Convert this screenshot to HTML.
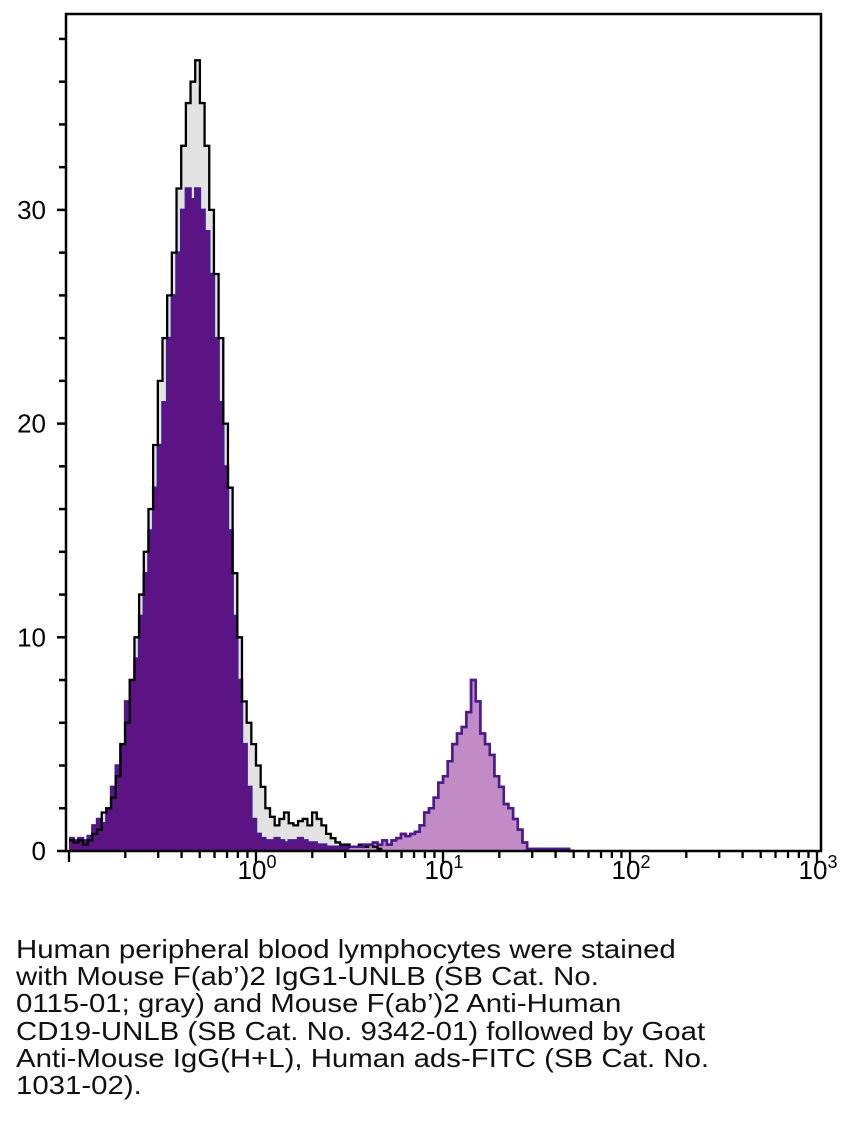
<!DOCTYPE html>
<html><head><meta charset="utf-8"><style>
html,body{margin:0;padding:0;background:#fff;width:846px;height:1140px;overflow:hidden}
#cap{position:absolute;left:16px;top:936px;font-family:"Liberation Sans",sans-serif;font-size:26px;line-height:27.2px;color:#111;white-space:pre;transform:scaleX(1.13);transform-origin:0 0}
svg{position:absolute;left:0;top:0}
</style></head><body>
<svg id="chart" width="846" height="930" xmlns="http://www.w3.org/2000/svg"></svg>
<div id="cap">Human peripheral blood lymphocytes were stained
with Mouse F(ab’)2 IgG1-UNLB (SB Cat. No.
0115-01; gray) and Mouse F(ab’)2 Anti-Human
CD19-UNLB (SB Cat. No. 9342-01) followed by Goat
Anti-Mouse IgG(H+L), Human ads-FITC (SB Cat. No.
1031-02).</div>
<script>
const binStart = -1.0;
const binWidth = 0.025;
const grayCounts = [0.5,0.4,0.5,0.3,0.5,0.8,1,1.8,2,2.5,3.5,5,6,8,10,12,14,16,19,22,24,26,28,31,33,35,36,37,35,33,30,27,24,20,17,13,10,7,6,5,4,3,2,1.6,1.2,1.5,1.8,1.3,1.2,1.4,1.5,1.2,1.8,1.5,1.2,0.8,0.6,0.4,0.3,0.3,0.2,0.2,0.3,0.2,0.3,0.2,0.1,0,0,0,0,0,0,0,0,0,0,0,0,0,0,0,0,0,0,0,0,0,0,0,0,0,0,0,0,0,0,0,0,0,0,0,0,0,0,0,0,0];
const purpleCounts = [0.6,0.5,0.6,0.5,0.7,1.2,1.5,1.3,2,3,4,5,7,8,9,11,13,15,17,19,21,24,26,28,30,31,30.5,31,30,29,27,24,21,18,15,11,8,5,3,1.5,0.8,0.6,0.5,0.5,0.6,0.5,0.4,0.5,0.5,0.6,0.5,0.4,0.4,0.3,0.3,0.2,0.2,0.2,0.2,0.3,0.2,0.2,0.2,0.3,0.3,0.4,0.3,0.5,0.3,0.5,0.6,0.8,0.7,0.8,0.9,1.2,1.8,2,2.5,3.2,3.5,4.2,5,5.5,5.8,6.5,8,7,5.5,5,4.5,3.5,3,2.2,2,1.5,1,0.4,0.1,0.1,0.1,0.1,0.1,0.1,0.1,0.1,0.1,0];
const yTicks = [0,10,20,30];
const xDecades = [0,1,2,3];
const darkLightSplit = 0.5;

const NS="http://www.w3.org/2000/svg";
const svg=document.getElementById('chart');
const L=66,R=821,T=14,B=851;
const xLog=v=>256+187*v;
const y=v=>B-v*21.37;
function mk(tag,attrs,name){const e=document.createElementNS(NS,tag);for(const k in attrs)e.setAttribute(k,attrs[k]);


svg.appendChild(e);return e;}
function stepPath(arr,from,to){let d='';for(let i=from;i<to;i++){const x0=xLog(binStart+i*binWidth),x1=xLog(binStart+(i+1)*binWidth);d+=(d?'L':'M')+x0+','+y(arr[i])+'L'+x1+','+y(arr[i]);}return d;}
function area(arr,from,to){const x0=xLog(binStart+from*binWidth),x1=xLog(binStart+to*binWidth);return 'M'+x0+','+B+stepPath(arr,from,to).replace(/^M/,'L')+'L'+x1+','+B+'Z';}
const n=grayCounts.length, np=purpleCounts.length;
const split=Math.round((darkLightSplit-binStart)/binWidth);
mk('path',{d:area(grayCounts,0,n),fill:'#e2e2e2',stroke:'none'},'isotype-gray-fill');
mk('path',{d:area(purpleCounts,0,split),fill:'#5c1384',stroke:'none'},'cd19-negative-fill');
mk('path',{d:area(purpleCounts,split,np),fill:'#c18bc6',stroke:'none'},'cd19-positive-fill');
mk('path',{d:stepPath(purpleCounts,0,np),fill:'none',stroke:'#4d1a8c','stroke-width':2.5},'cd19-outline');
mk('path',{d:stepPath(grayCounts,0,67),fill:'none',stroke:'#000','stroke-width':2.3},'isotype-outline');
mk('path',{d:stepPath(purpleCounts,split,np),fill:'none',stroke:'#4d1a8c','stroke-width':2.5},'cd19-positive-outline');
mk('rect',{x:L,y:T,width:R-L,height:B-T,fill:'none',stroke:'#000','stroke-width':2.5},'plot-frame');
for(let v=0;v<=38;v+=2){const maj=v%10===0;mk('line',{x1:L-(maj?9:7),x2:L,y1:y(v),y2:y(v),stroke:'#000','stroke-width':2.5},'y-tick');}
yTicks.forEach(v=>{const t=mk('text',{x:46,y:y(v)+9,'text-anchor':'end','font-family':'Liberation Sans, sans-serif','font-size':'26px',fill:'#000'},'y-tick-label');t.textContent=v;});
for(let d=-1;d<3;d++){for(let m=1;m<=9;m++){const lv=d+Math.log10(m);const xx=xLog(lv);if(xx<L+2)continue;const maj=m===1;mk('line',{x1:xx,x2:xx,y1:B,y2:B+(maj?11:7),stroke:'#000','stroke-width':2.3},'x-tick');}}
mk('line',{x1:xLog(3),x2:xLog(3),y1:B,y2:B+11,stroke:'#000','stroke-width':2.3},'x-tick');
xDecades.forEach(d=>{const t=mk('text',{x:xLog(d)+1,y:879,'text-anchor':'middle','font-family':'Liberation Sans, sans-serif','font-size':'26px',fill:'#000'},'x-tick-label');t.textContent='10';const s=document.createElementNS(NS,'tspan');s.setAttribute('dy','-11');s.setAttribute('font-size','18px');s.textContent=d;t.appendChild(s);});
</script>
</body></html>
